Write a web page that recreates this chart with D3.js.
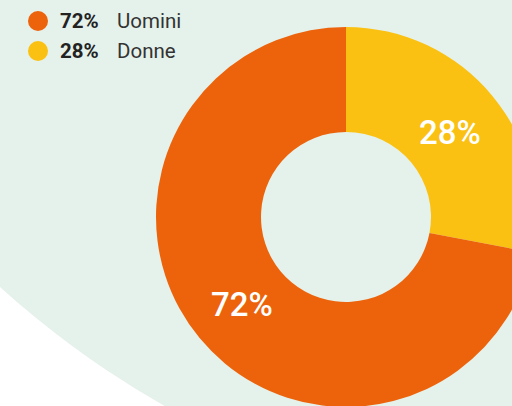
<!DOCTYPE html>
<html>
<head>
<meta charset="utf-8">
<script src="https://cdn.jsdelivr.net/npm/d3@7"></script>
<style>
  body { margin: 0; background: #fff; }
  svg { display: block; font-family: Roboto, "Noto Sans", sans-serif; }
</style>
</head>
<body>
<script>
let width = 512;
let height = 406;

// data
let categories = ['Uomini', 'Donne'];
let values = [72, 28];
let colors = ['#ec630b', '#fbc112'];

let svg = d3.select('body').append('svg')
  .attr('width', width).attr('height', height)
  .attr('viewBox', '0 0 ' + width + ' ' + height);

// big pale background disc, cut at lower left
svg.append('circle')
  .attr('cx', 610).attr('cy', -383).attr('r', 906)
  .attr('fill', '#e5f1eb');

let cx = 346, cy = 217;
let outer = 190, inner = 85;

// yellow slice starts at 12 o'clock, so feed Donne first
let slices = categories.map((c, i) => ({name: c, value: values[i], color: colors[i]})).reverse();
let pie = d3.pie().sort(null).value(d => d.value);
let arc = d3.arc().innerRadius(inner).outerRadius(outer);
let labelArc = d3.arc().innerRadius(135).outerRadius(135);

let g = svg.append('g').attr('transform', 'translate(' + cx + ',' + cy + ')');
g.selectAll('path').data(pie(slices)).enter().append('path')
  .attr('d', arc)
  .attr('fill', d => d.data.color);

g.selectAll('text').data(pie(slices)).enter().append('text')
  .attr('transform', d => 'translate(' + labelArc.centroid(d) + ')')
  .attr('text-anchor', 'middle')
  .attr('dy', '0.4em')
  .attr('fill', '#fff')
  .attr('font-size', 33)
  .attr('font-weight', 500)
  .text(d => d.data.value + '%');

// legend
let legend = svg.append('g').attr('transform', 'translate(38,21)');
let item = legend.selectAll('g').data(categories).enter().append('g')
  .attr('transform', (d, i) => 'translate(0,' + (i * 30) + ')');
item.append('circle').attr('r', 10).attr('fill', (d, i) => colors[i]);
item.append('text')
  .attr('x', 22).attr('dy', '0.36em')
  .attr('font-size', 20.5).attr('font-weight', 700).attr('fill', '#222')
  .text((d, i) => values[i] + '%');
item.append('text')
  .attr('x', 79).attr('dy', '0.36em')
  .attr('font-size', 20.5).attr('fill', '#333')
  .text(d => d);
</script>
</body>
</html>
